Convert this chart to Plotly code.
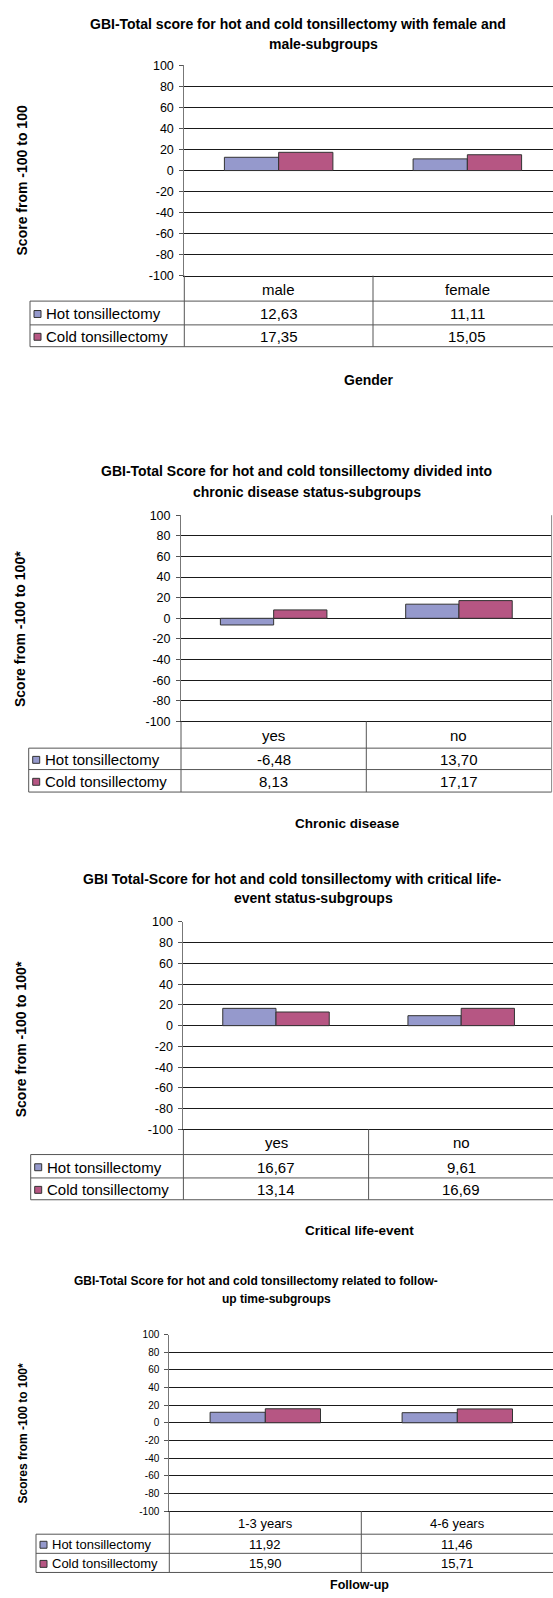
import plotly.graph_objects as go

W, H = 553, 1598

# ---------------- data ----------------
gender_categories = ["male", "female"]
gender_hot = [12.63, 11.11]
gender_cold = [17.35, 15.05]

chronic_categories = ["yes", "no"]
chronic_hot = [-6.48, 13.70]
chronic_cold = [8.13, 17.17]

life_categories = ["yes", "no"]
life_hot = [16.67, 9.61]
life_cold = [13.14, 16.69]

follow_categories = ["1-3 years", "4-6 years"]
follow_hot = [11.92, 11.46]
follow_cold = [15.90, 15.71]

series_names = ["Hot tonsillectomy", "Cold tonsillectomy"]
y_tick_values = [100, 80, 60, 40, 20, 0, -20, -40, -60, -80, -100]
y_tick_labels = ["100", "80", "60", "40", "20", "0", "-20", "-40", "-60", "-80", "-100"]

title_lines = [
    ["GBI-Total score for hot and cold tonsillectomy with female and", "male-subgroups"],
    ["GBI-Total Score for hot and cold tonsillectomy divided into", "chronic disease status-subgroups"],
    ["GBI Total-Score for hot and cold tonsillectomy with critical life-", "event status-subgroups"],
    ["GBI-Total Score for hot and cold tonsillectomy related to follow-", "up time-subgroups"],
]
x_titles = ["Gender", "Chronic disease", "Critical life-event", "Follow-up"]
y_titles = ["Score from -100 to 100", "Score from -100 to 100*",
            "Score from -100 to 100*", "Scores from -100 to 100*"]

panels_data = [
    (gender_categories, gender_hot, gender_cold),
    (chronic_categories, chronic_hot, chronic_cold),
    (life_categories, life_hot, life_cold),
    (follow_categories, follow_hot, follow_cold),
]

# ---------------- layout (pixels) ----------------
layouts = [
    dict(left=184.3, top=59, bottom=271, catw=188.7, rows=[271, 296.7, 320.7, 342.7], leg=30,
         t=[(298, 16.7), (323, 37.7)], ts=14, yt=(22, 175), xt=(368.6, 376.7), xs=14,
         tick=12.5, tab=15, border=False),
    dict(left=181, top=512.7, bottom=720.7, catw=185.3, rows=[720.7, 747.7, 769.3, 792], leg=28.7,
         t=[(296, 468), (306.5, 489)], ts=14, yt=(20, 627.5), xt=(347.4, 823.3), xs=13.5,
         tick=12.5, tab=15, border=True),
    dict(left=183.4, top=923, bottom=1132.3, catw=185.2, rows=[1132.3, 1157.7, 1181.3, 1203.3], leg=30.7,
         t=[(292, 879.5), (313, 899.3)], ts=14, yt=(20.7, 1041.7), xt=(359.8, 1234), xs=13.5,
         tick=12.5, tab=15, border=False),
    dict(left=169.3, top=1339.3, bottom=1517.3, catw=192, rows=[1517.3, 1540.7, 1560, 1579.3], leg=36,
         t=[(256, 1285), (276, 1303.3)], ts=12, yt=(23, 1439), xt=(359, 1591.7), xs=12.5,
         tick=10, tab=13, border=False),
]

HOT = "#9599CC"
COLD = "#B65683"
OUTLINE = "#333333"
GRID = "#1a1a1a"
TABLE_LINE = "#555555"
FONT = "Liberation Sans, Arial, sans-serif"


def X(px):
    return px / W


def Y(py):
    return 1 - py / H


fig = go.Figure()
shapes = []
annotations = []

for i, ((cats, hot, cold), L) in enumerate(zip(panels_data, layouts)):
    n = i + 1
    xa = "x" if n == 1 else f"x{n}"
    ya = "y" if n == 1 else f"y{n}"
    right_px = 551.8 if L["border"] else W
    right_px = min(right_px, L["left"] + 2 * L["catw"])
    xr_end = -0.5 + (right_px - L["left"]) / L["catw"]

    for name, vals, col in [(series_names[0], hot, HOT), (series_names[1], cold, COLD)]:
        fig.add_trace(go.Bar(
            x=cats, y=vals, name=name, xaxis=xa, yaxis=ya,
            marker=dict(color=col, line=dict(color=OUTLINE, width=1)),
            showlegend=False, hoverinfo="skip",
        ))

    xkey = "xaxis" if n == 1 else f"xaxis{n}"
    ykey = "yaxis" if n == 1 else f"yaxis{n}"
    fig.layout[xkey] = dict(
        domain=[X(L["left"]), X(right_px)], anchor=ya, type="category",
        categoryorder="array", categoryarray=cats,
        range=[-0.5, xr_end], showticklabels=False, ticks="",
        showgrid=False, zeroline=False, showline=True, linecolor=GRID, linewidth=1,
        fixedrange=True,
    )
    fig.layout[ykey] = dict(
        domain=[Y(L["bottom"]), Y(L["top"])], anchor=xa,
        range=[-100, 100], tickvals=y_tick_values, ticktext=y_tick_labels,
        ticks="outside", ticklen=4, tickcolor="#555555", ticklabelstandoff=3,
        showgrid=True, gridcolor=GRID, gridwidth=1,
        zeroline=True, zerolinecolor=GRID, zerolinewidth=1,
        showline=True, linecolor="#777777", linewidth=1,
        tickfont=dict(family=FONT, size=L["tick"], color="#000"),
        fixedrange=True,
    )

    rows = L["rows"]
    xl = X(L["left"])
    xr = X(right_px)
    # axis line continued through the data table
    shapes.append(dict(type="line", xref="paper", yref="paper", x0=xl, x1=xl,
                       y0=Y(rows[0]), y1=Y(rows[3]), line=dict(color=TABLE_LINE, width=1)))
    # divider between the two category columns
    shapes.append(dict(type="line", xref=xa, yref="paper", x0=0.5, x1=0.5,
                       y0=Y(rows[0]), y1=Y(rows[3]), line=dict(color=TABLE_LINE, width=1)))
    # horizontal table rules
    for r in rows[1:]:
        shapes.append(dict(type="line", xref="paper", yref="paper", x0=X(L["leg"]), x1=xr,
                           y0=Y(r), y1=Y(r), line=dict(color=TABLE_LINE, width=1)))
    # left border of the legend column
    shapes.append(dict(type="line", xref="paper", yref="paper", x0=X(L["leg"]), x1=X(L["leg"]),
                       y0=Y(rows[1]), y1=Y(rows[3]), line=dict(color=TABLE_LINE, width=1)))
    if L["border"]:
        shapes.append(dict(type="line", xref="paper", yref="paper", x0=xr, x1=xr,
                           y0=Y(L["top"]), y1=Y(rows[3]), line=dict(color="#888888", width=1)))

    # category labels (header row of the data table)
    for c in cats:
        annotations.append(dict(x=c, xref=xa, y=Y((rows[0] + rows[1]) / 2 + 1), yref="paper",
                                text=c, showarrow=False, xanchor="center", yanchor="middle",
                                font=dict(family=FONT, size=L["tab"], color="#000")))
    # series rows with legend keys and values
    for k, (name, vals, col) in enumerate([(series_names[0], hot, HOT), (series_names[1], cold, COLD)]):
        r0, r1 = rows[k + 1], rows[k + 2]
        cy = (r0 + r1) / 2
        sz = 7
        shapes.append(dict(type="rect", xref="paper", yref="paper",
                           x0=X(L["leg"] + 4), x1=X(L["leg"] + 4 + sz),
                           y0=Y(cy + 1 - sz / 2), y1=Y(cy + 1 + sz / 2),
                           fillcolor=col, line=dict(color=OUTLINE, width=1)))
        annotations.append(dict(x=X(L["leg"] + 14), xref="paper", y=Y(cy + 1), yref="paper",
                                text=name, showarrow=False, xanchor="left", yanchor="middle",
                                font=dict(family=FONT, size=L["tab"], color="#000")))
        for c, v in zip(cats, vals):
            annotations.append(dict(x=c, xref=xa, y=Y(cy + 1), yref="paper",
                                    text=f"{v:.2f}".replace(".", ","), showarrow=False,
                                    xanchor="center", yanchor="middle",
                                    font=dict(family=FONT, size=L["tab"], color="#000")))

    # chart title (two lines)
    for line_text, (tx, ty) in zip(title_lines[i], L["t"]):
        annotations.append(dict(x=X(tx), xref="paper", y=Y(ty), yref="paper",
                                text=f"<b>{line_text}</b>", showarrow=False,
                                xanchor="center", yanchor="middle",
                                font=dict(family=FONT, size=L["ts"], color="#000")))
    # y-axis title
    annotations.append(dict(x=X(L["yt"][0]), xref="paper", y=Y(L["yt"][1]), yref="paper",
                            text=f"<b>{y_titles[i]}</b>", showarrow=False, textangle=-90,
                            xanchor="center", yanchor="middle",
                            font=dict(family=FONT, size=L["ts"], color="#000")))
    # x-axis title
    annotations.append(dict(x=X(L["xt"][0]), xref="paper", y=Y(L["xt"][1]), yref="paper",
                            text=f"<b>{x_titles[i]}</b>", showarrow=False,
                            xanchor="center", yanchor="middle",
                            font=dict(family=FONT, size=L["xs"], color="#000")))

fig.update_layout(
    width=W, height=H, autosize=False,
    margin=dict(l=0, r=0, t=0, b=0, pad=0),
    paper_bgcolor="white", plot_bgcolor="white",
    barmode="group", bargap=0.425, bargroupgap=0,
    shapes=shapes, annotations=annotations,
    font=dict(family=FONT, color="#000"),
)

fig.write_html(
    "out.html",
    config={"displayModeBar": False},
    post_script="document.body.style.margin='0';document.body.style.overflow='hidden';",
)
